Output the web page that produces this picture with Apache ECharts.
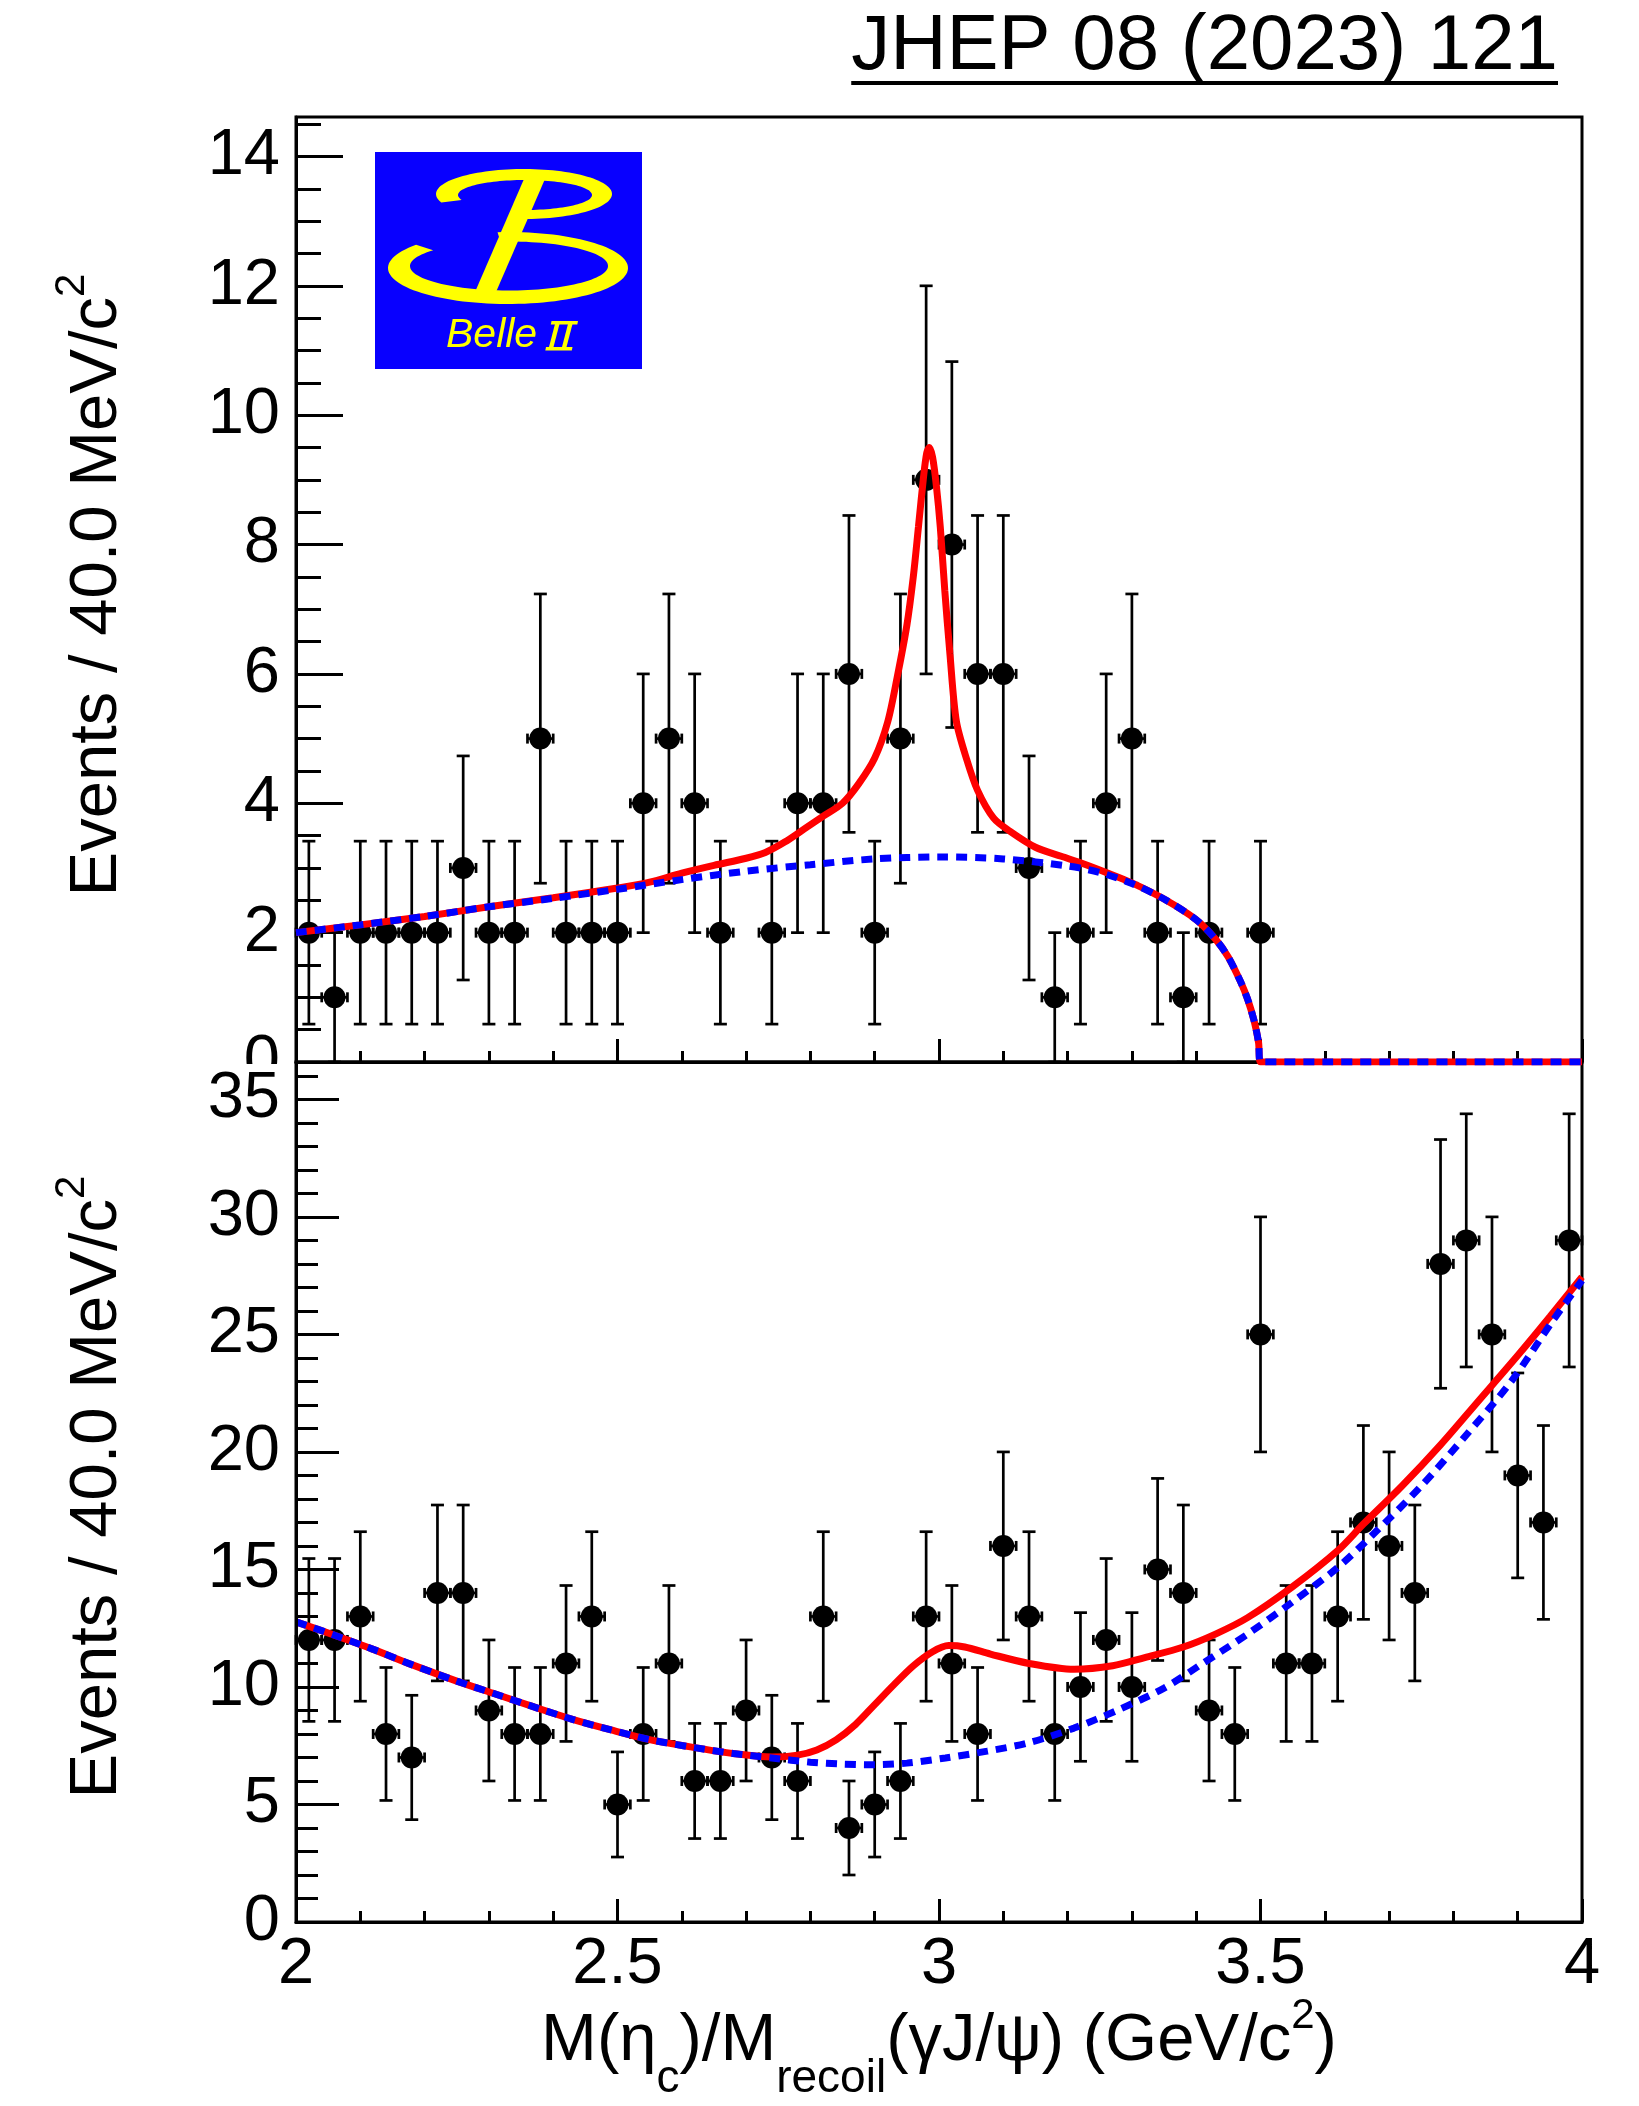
<!DOCTYPE html>
<html>
<head>
<meta charset="utf-8">
<script src="https://cdn.jsdelivr.net/npm/echarts@6/dist/echarts.min.js"></script>
<style>
  html, body { margin: 0; padding: 0; background: #fff; }
  #chart { width: 1639px; height: 2106px; }
</style>
</head>
<body>
<div id="chart"></div>
<script>
// ---- binned data: 40 MeV bins between 2.0 and 4.0 GeV/c^2 ----
const binWidth = 0.04;
const binCenters = [
  2.02, 2.06, 2.10, 2.14, 2.18, 2.22, 2.26, 2.30, 2.34, 2.38,
  2.42, 2.46, 2.50, 2.54, 2.58, 2.62, 2.66, 2.70, 2.74, 2.78,
  2.82, 2.86, 2.90, 2.94, 2.98, 3.02, 3.06, 3.10, 3.14, 3.18,
  3.22, 3.26, 3.30, 3.34, 3.38, 3.42, 3.46, 3.50, 3.54, 3.58,
  3.62, 3.66, 3.70, 3.74, 3.78, 3.82, 3.86, 3.90, 3.94, 3.98
];
// upper panel: M(eta_c)
const etacCounts = [
  2, 1, 2, 2, 2, 2, 3, 2, 2, 5,
  2, 2, 2, 4, 5, 4, 2, 0, 2, 4,
  4, 6, 2, 5, 9, 8, 6, 6, 3, 1,
  2, 4, 5, 2, 1, 2, 0, 2, 0, 0,
  0, 0, 0, 0, 0, 0, 0, 0, 0, 0
];
// lower panel: M_recoil(gamma J/psi)
const recoilCounts = [
  12, 12, 13, 8, 7, 14, 14, 9, 8, 8,
  11, 13, 5, 8, 11, 6, 6, 9, 7, 6,
  13, 4, 5, 6, 13, 11, 8, 16, 13, 8,
  10, 12, 10, 15, 14, 9, 8, 25, 11, 11,
  13, 17, 16, 14, 28, 29, 25, 19, 17, 29
];

// ---- fit curves [mass, events per bin] ----
const etacTotalFit = [
  [2.00, 2.00], [2.10, 2.12], [2.20, 2.25], [2.30, 2.40], [2.40, 2.54],
  [2.50, 2.69], [2.55, 2.78], [2.60, 2.92], [2.65, 3.04], [2.70, 3.15],
  [2.73, 3.24], [2.76, 3.40], [2.79, 3.60], [2.82, 3.80], [2.85, 4.00],
  [2.875, 4.30], [2.90, 4.70], [2.92, 5.25], [2.935, 5.95], [2.95, 6.75],
  [2.96, 7.50], [2.968, 8.27], [2.976, 9.05], [2.981, 9.42], [2.985, 9.50],
  [2.990, 9.35], [2.996, 8.90], [3.002, 8.27], [3.009, 7.29], [3.017, 6.31],
  [3.027, 5.27], [3.043, 4.68], [3.06, 4.20], [3.085, 3.77], [3.11, 3.57],
  [3.15, 3.32], [3.19, 3.18], [3.22, 3.08], [3.26, 2.93], [3.30, 2.77],
  [3.35, 2.52], [3.40, 2.20], [3.43, 1.90], [3.45, 1.62], [3.47, 1.22],
  [3.48, 0.97], [3.49, 0.64], [3.497, 0.30], [3.50, 0.00], [4.00, 0.00]
];
const etacBkgFit = [
  [2.00, 2.00], [2.10, 2.12], [2.20, 2.25], [2.30, 2.40], [2.40, 2.53],
  [2.50, 2.67], [2.60, 2.82], [2.70, 2.95], [2.80, 3.05], [2.90, 3.14],
  [3.00, 3.17], [3.10, 3.14], [3.20, 3.03], [3.25, 2.93], [3.30, 2.76],
  [3.35, 2.52], [3.40, 2.20], [3.43, 1.90], [3.45, 1.62], [3.47, 1.22],
  [3.48, 0.97], [3.49, 0.64], [3.497, 0.30], [3.50, 0.00], [4.00, 0.00]
];
const recoilTotalFit = [
  [2.00, 12.77], [2.06, 12.20], [2.12, 11.60], [2.18, 10.95], [2.25, 10.25],
  [2.31, 9.70], [2.37, 9.15], [2.43, 8.62], [2.49, 8.17], [2.55, 7.76],
  [2.62, 7.42], [2.68, 7.17], [2.74, 7.02], [2.78, 7.10], [2.81, 7.32],
  [2.84, 7.75], [2.87, 8.40], [2.90, 9.25], [2.93, 10.10], [2.96, 10.90],
  [2.99, 11.50], [3.015, 11.76], [3.04, 11.70], [3.08, 11.40], [3.14, 11.00],
  [3.21, 10.75], [3.27, 10.90], [3.32, 11.25], [3.38, 11.70], [3.43, 12.25],
  [3.48, 12.95], [3.55, 14.27], [3.62, 15.80], [3.66, 16.93], [3.72, 18.55],
  [3.78, 20.30], [3.84, 22.20], [3.90, 24.10], [3.95, 25.75], [4.00, 27.45]
];
const recoilBkgFit = [
  [2.00, 12.77], [2.06, 12.20], [2.12, 11.60], [2.18, 10.95], [2.25, 10.25],
  [2.31, 9.70], [2.37, 9.15], [2.43, 8.62], [2.49, 8.17], [2.55, 7.76],
  [2.62, 7.42], [2.68, 7.17], [2.74, 6.98], [2.80, 6.80], [2.85, 6.72],
  [2.90, 6.69], [2.95, 6.76], [3.01, 6.98], [3.075, 7.27], [3.14, 7.63],
  [3.21, 8.25], [3.28, 9.04], [3.35, 9.95], [3.41, 11.00], [3.48, 12.25],
  [3.55, 13.62], [3.62, 15.08], [3.68, 16.62], [3.75, 18.55], [3.82, 20.72],
  [3.89, 23.00], [3.955, 25.60], [4.00, 27.30]
];

// ---- axis ranges and tick labels ----
const massRange = [2, 4];
const massTickLabels = [2, 2.5, 3, 3.5, 4];
const etacYMax = 14.61;
const etacYTicks = [0, 2, 4, 6, 8, 10, 12, 14];
const recoilYMax = 36.59;
const recoilYTicks = [0, 5, 10, 15, 20, 25, 30, 35];

// minor tick positions for the y axes
const etacYMinor = [];
for (let v = 0; v <= etacYMax; v += 0.5) etacYMinor.push(v);
const recoilYMinor = [];
for (let v = 0; v <= recoilYMax; v += 1) recoilYMinor.push(v);

const FONT = "'Liberation Sans', Arial, Helvetica, sans-serif";
const BLACK = '#000000';

// ---- helpers ----
function nonEmptyPoints(counts) {
  const pts = [];
  binCenters.forEach((x, i) => { if (counts[i] > 0) pts.push([x, counts[i]]); });
  return pts;
}

function errorBarSeries(counts, xi, yi) {
  return {
    type: 'custom', xAxisIndex: xi, yAxisIndex: yi, z: 2, silent: true,
    data: nonEmptyPoints(counts),
    renderItem(params, api) {
      const x = api.value(0), n = api.value(1), err = Math.sqrt(n);
      const c = api.coord([x, n]);
      const lo = api.coord([x, n - err]);
      const hi = api.coord([x, n + err]);
      const l = api.coord([x - binWidth / 2, n]);
      const r = api.coord([x + binWidth / 2, n]);
      const style = { stroke: BLACK, lineWidth: 2.7 };
      const seg = (x1, y1, x2, y2) => ({ type: 'line', shape: { x1, y1, x2, y2 }, style });
      return {
        type: 'group',
        children: [
          seg(c[0], lo[1], c[0], hi[1]),
          seg(c[0] - 6.5, lo[1], c[0] + 6.5, lo[1]),
          seg(c[0] - 6.5, hi[1], c[0] + 6.5, hi[1]),
          seg(l[0], c[1], r[0], c[1]),
          seg(l[0], c[1] - 5, l[0], c[1] + 5),
          seg(r[0], c[1] - 5, r[0], c[1] + 5)
        ]
      };
    }
  };
}

function markerSeries(counts, xi, yi) {
  return {
    type: 'scatter', xAxisIndex: xi, yAxisIndex: yi, z: 3, silent: true,
    data: nonEmptyPoints(counts),
    symbol: 'circle', symbolSize: 22,
    itemStyle: { color: BLACK, opacity: 1 }
  };
}

function curveSeries(points, xi, yi, color, dashed, z) {
  return {
    type: 'line', xAxisIndex: xi, yAxisIndex: yi, z, silent: true,
    data: points, showSymbol: false, smooth: 0.3,
    lineStyle: { color, width: 7, opacity: 1, type: dashed ? [11, 8] : 'solid', cap: 'butt' }
  };
}

function massAxis(gridIndex, showLabels) {
  return {
    type: 'value', gridIndex, position: 'bottom',
    min: massRange[0], max: massRange[1], interval: 0.5,
    axisLine: { show: true, onZero: false, lineStyle: { color: BLACK, width: 3 } },
    axisTick: { show: true, inside: true, length: 23, lineStyle: { color: BLACK, width: 3 } },
    minorTick: { show: true, splitNumber: 5, length: 11, lineStyle: { color: BLACK, width: 3 } },
    splitLine: { show: false }, minorSplitLine: { show: false },
    axisLabel: {
      show: showLabels, customValues: massTickLabels, color: BLACK,
      fontSize: 65, fontFamily: FONT, margin: 11,
      showMinLabel: true, showMaxLabel: true,
      formatter: v => String(v)
    }
  };
}

function countAxes(gridIndex, max, majors, minors, majorLen, minorLen, z) {
  return [
    {
      type: 'value', gridIndex, position: 'left', min: 0, max, z,
      axisLine: { show: true, onZero: false, lineStyle: { color: BLACK, width: 3 } },
      axisTick: { show: true, inside: true, length: majorLen, customValues: majors,
                  lineStyle: { color: BLACK, width: 3 } },
      axisLabel: { show: true, customValues: majors, color: BLACK, fontSize: 65,
                   fontFamily: FONT, margin: 16, formatter: v => String(v) },
      splitLine: { show: false }
    },
    {
      type: 'value', gridIndex, position: 'left', min: 0, max, z,
      axisLine: { show: false },
      axisTick: { show: true, inside: true, length: minorLen, customValues: minors,
                  lineStyle: { color: BLACK, width: 3 } },
      axisLabel: { show: false },
      splitLine: { show: false }
    }
  ];
}

// ---- titles (rich text with sub/superscripts) ----
const titleRich = {
  n:   { fontSize: 67, lineHeight: 120, verticalAlign: 'middle', fontFamily: FONT, fill: BLACK },
  sub: { fontSize: 46, lineHeight: 46, verticalAlign: 'bottom', fontFamily: FONT, fill: BLACK },
  sup: { fontSize: 42, lineHeight: 56, verticalAlign: 'top', padding: [13, 0, 0, 0], fontFamily: FONT, fill: BLACK }
};
const xTitle = '{n|M(η}{sub|c}{n|)/M}{sub|recoil}{n|(γJ/ψ) (GeV/c}{sup|2}{n|)}';
const yTitle = '{n|Events / 40.0 MeV/c}{sup|2}';

const header = 'JHEP 08 (2023) 121';
const mctx = document.createElement('canvas').getContext('2d');
mctx.font = '78px ' + FONT;
const headerWidth = mctx.measureText(header).width;
const headerRight = 1558;

// ---- Belle II logo shapes (polygon outlines of elliptical strokes) ----
function ellipseBand(o, i, a0, a1) {
  const d = Math.PI / 180;
  const pts = [];
  for (let a = a0; a <= a1; a += 3) pts.push([o.cx + o.rx * Math.cos(a * d), o.cy + o.ry * Math.sin(a * d)]);
  for (let a = a1; a >= a0; a -= 3) pts.push([i.cx + i.rx * Math.cos(a * d), i.cy + i.ry * Math.sin(a * d)]);
  return pts;
}
const logoBlue = '#0800ff';
const logoYellow = '#ffff00';
const upperBowl = ellipseBand({ cx: 524, cy: 194, rx: 88, ry: 25 }, { cx: 525, cy: 195, rx: 67, ry: 15 }, 160, 452);
const lowerBowl = ellipseBand({ cx: 508, cy: 268, rx: 120, ry: 36 }, { cx: 509, cy: 266, rx: 99, ry: 24.5 }, 265, 580);
const logoStem = [[524, 179], [545, 179], [496, 292], [475, 292]];
// Roman numeral II with horizontal bars
const numeralParts = [
  [[551.5, 321], [578, 321], [577.3, 324.5], [550.8, 324.5]],
  [[546, 347], [572.5, 347], [571.8, 350.5], [545.3, 350.5]],
  [[555, 324], [559.5, 324], [553.5, 347], [549, 347]],
  [[568, 324], [572.5, 324], [566.5, 347], [562, 347]]
];

const chart = echarts.init(document.getElementById('chart'), null, { renderer: 'canvas', width: 1639, height: 2106 });

chart.setOption({
  animation: false,
  backgroundColor: '#ffffff',
  grid: [
    { left: 296, top: 117, width: 1286, height: 945, show: true, borderColor: BLACK, borderWidth: 3,
      backgroundColor: 'transparent', containLabel: false, outerBoundsMode: 'none' },
    { left: 296, top: 1062, width: 1286, height: 860, show: true, borderColor: BLACK, borderWidth: 3,
      backgroundColor: 'transparent', containLabel: false, outerBoundsMode: 'none' }
  ],
  xAxis: [massAxis(0, false), massAxis(1, true)],
  yAxis: [
    ...countAxes(0, etacYMax, etacYTicks, etacYMinor, 47, 25, 1),
    ...countAxes(1, recoilYMax, recoilYTicks, recoilYMinor, 43, 22, 10)
  ],
  series: [
    errorBarSeries(etacCounts, 0, 0),
    markerSeries(etacCounts, 0, 0),
    curveSeries(etacTotalFit, 0, 0, '#ff0000', false, 4),
    curveSeries(etacBkgFit, 0, 0, '#0000ff', true, 5),
    errorBarSeries(recoilCounts, 1, 2),
    markerSeries(recoilCounts, 1, 2),
    curveSeries(recoilTotalFit, 1, 2, '#ff0000', false, 4),
    curveSeries(recoilBkgFit, 1, 2, '#0000ff', true, 5)
  ],
  graphic: {
    elements: [
      // lower panel hides the lower half of the upper panel's "0"
      { type: 'rect', z: 5, silent: true, shape: { x: 140, y: 1064, width: 153, height: 40 }, style: { fill: '#ffffff' } },
      // journal reference
      { type: 'text', z: 5, silent: true, x: headerRight, y: 47,
        style: { text: header, fontSize: 78, fontFamily: FONT, fill: BLACK, align: 'right', verticalAlign: 'middle' } },
      { type: 'line', z: 5, silent: true,
        shape: { x1: headerRight - headerWidth, y1: 83, x2: headerRight, y2: 83 },
        style: { stroke: BLACK, lineWidth: 4 } },
      // axis titles
      { type: 'text', z: 5, silent: true, x: 939, y: 1982,
        style: { text: xTitle, rich: titleRich, align: 'center', verticalAlign: 'top', fill: BLACK } },
      { type: 'text', z: 5, silent: true, x: 38, y: 585, rotation: Math.PI / 2,
        style: { text: yTitle, rich: titleRich, align: 'center', verticalAlign: 'top', fill: BLACK } },
      { type: 'text', z: 5, silent: true, x: 38, y: 1487, rotation: Math.PI / 2,
        style: { text: yTitle, rich: titleRich, align: 'center', verticalAlign: 'top', fill: BLACK } },
      // Belle II logo
      { type: 'rect', z: 5, silent: true, shape: { x: 375, y: 152, width: 267, height: 217 }, style: { fill: logoBlue } },
      { type: 'polygon', z: 6, silent: true, shape: { points: upperBowl }, style: { fill: logoYellow } },
      { type: 'polygon', z: 6, silent: true, shape: { points: lowerBowl }, style: { fill: logoYellow } },
      { type: 'polygon', z: 6, silent: true, shape: { points: logoStem }, style: { fill: logoYellow } },
      ...numeralParts.map(p => ({ type: 'polygon', z: 6, silent: true, shape: { points: p }, style: { fill: logoYellow } })),
      { type: 'text', z: 6, silent: true, x: 446, y: 336,
        style: { text: 'Belle', fontSize: 41, fontStyle: 'italic', fontFamily: FONT,
                 fill: logoYellow, align: 'left', verticalAlign: 'middle' } }
    ]
  }
});
</script>
</body>
</html>
